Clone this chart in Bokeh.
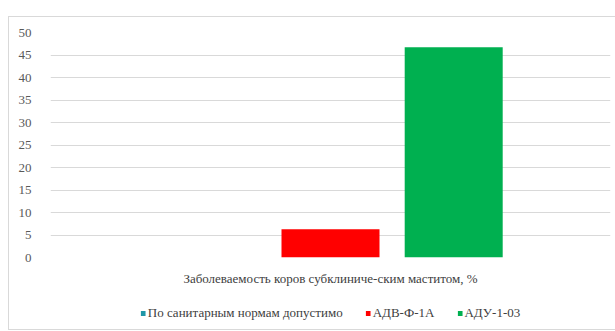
from bokeh.plotting import figure
from bokeh.layouts import column
from bokeh.models import ColumnDataSource, FactorRange, Legend, LegendItem, SingleIntervalTicker, Range1d
from bokeh.transform import dodge
from bokeh.embed import file_html
from bokeh.resources import INLINE

category = ["Заболеваемость коров субклиниче-ским маститом, %"]
series = ["По санитарным нормам допустимо", "АДВ-Ф-1А", "АДУ-1-03"]
values = [0, 6.3, 46.7]
colors = ["#1F97A8", "#FF0000", "#00B050"]
offsets = [-0.22, 0.0, 0.22]

FONT = "Liberation Serif"
TXT = "#595959"

xr = FactorRange(*category, range_padding=0)

# main chart
p = figure(x_range=xr, y_range=(0, 50), width=606, height=280,
           output_backend="svg", toolbar_location=None,
           min_border_left=41, min_border_right=5, min_border_top=15, min_border_bottom=40)
p.outline_line_color = None

# legend strip (bars out of its view; only the legend is shown)
leg = figure(x_range=xr, y_range=Range1d(1000, 1001), width=606, height=32,
             output_backend="svg", toolbar_location=None,
             x_axis_type=None, y_axis_type=None,
             min_border_left=14, min_border_right=0, min_border_top=0, min_border_bottom=0)
leg.outline_line_color = None
leg.xgrid.grid_line_color = None
leg.ygrid.grid_line_color = None

items = []
for s, v, c, off in zip(series, values, colors, offsets):
    src = ColumnDataSource(dict(cat=category, top=[v]))
    p.vbar(x=dodge("cat", off, range=xr), top="top", width=0.175,
           source=src, fill_color=c, line_color=None)
    r = leg.vbar(x=dodge("cat", off, range=xr), top="top", width=0.175,
                 source=src, fill_color=c, line_color=None)
    items.append(LegendItem(label=s, renderers=[r]))

p.yaxis.ticker = SingleIntervalTicker(interval=5)
p.yaxis.axis_line_color = None
p.yaxis.major_tick_line_color = None
p.yaxis.minor_tick_line_color = None
p.yaxis.major_label_standoff = 13
p.yaxis.major_label_text_font = FONT
p.yaxis.major_label_text_font_size = "13px"
p.yaxis.major_label_text_color = TXT

p.xaxis.axis_line_color = None
p.xaxis.major_tick_line_color = None
p.xaxis.minor_tick_line_color = None
p.xaxis.major_label_standoff = 7
p.xaxis.major_label_text_font = FONT
p.xaxis.major_label_text_font_size = "13px"
p.xaxis.major_label_text_color = "#404040"

p.xgrid.grid_line_color = None
p.ygrid.grid_line_color = "#D9D9D9"

legend = Legend(items=items, orientation="horizontal", location="center",
                glyph_width=6, glyph_height=6, label_standoff=2, spacing=22,
                label_text_font=FONT, label_text_font_size="13px", label_text_color="#404040",
                border_line_color=None, background_fill_alpha=0, padding=4, margin=0)
leg.add_layout(legend)

layout = column(p, leg, spacing=0, margin=(16, 0, 0, 8),
                styles={"border": "1px solid #D9D9D9"})

open("out.html", "w").write(file_html(layout, INLINE))
